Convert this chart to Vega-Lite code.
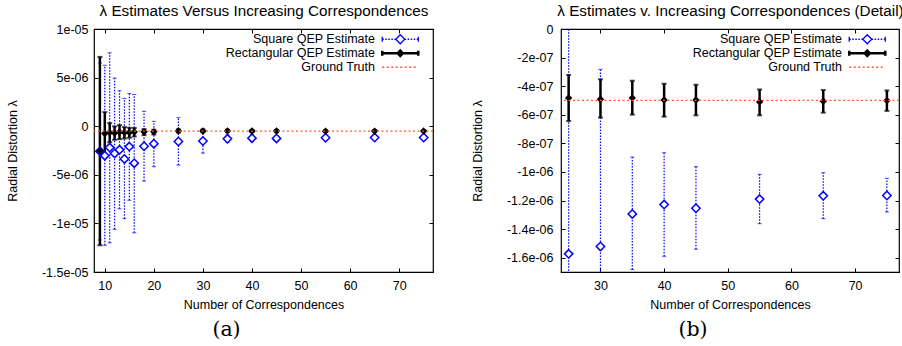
{
  "$schema": "https://vega.github.io/schema/vega-lite/v6.json",
  "padding": {"left": 5, "top": 2, "right": 4, "bottom": 4},
  "spacing": 35,
  "background": "white",
  "config": {
    "font": "Liberation Sans",
    "view": {"stroke": "black", "strokeWidth": 1.2},
    "axis": {
      "grid": false, "domain": false,
      "labelFont": "Liberation Sans", "labelFontSize": 12.5, "labelColor": "black",
      "titleFont": "Liberation Sans", "titleFontSize": 12.5, "titleFontWeight": "normal", "titleColor": "black",
      "tickColor": "black", "tickSize": -4, "tickWidth": 1, "labelOverlap": false, "labelFlush": false
    },
    "legend": {"labelFont": "Liberation Sans", "labelFontSize": 12.5, "labelColor": "black"}
  },
  "resolve": {
    "scale": {"stroke": "independent", "shape": "independent"},
    "legend": {"stroke": "independent", "shape": "independent"}
  },
  "datasets": {
    "est": [
      {"n": 9, "series": "Square QEP Estimate", "y": -2.58e-6, "lo": -1.17e-5, "hi": 6.5e-6},
      {"n": 10, "series": "Square QEP Estimate", "y": -3.03e-6, "lo": -1.225e-5, "hi": 6.27e-6},
      {"n": 11, "series": "Square QEP Estimate", "y": -2.2e-6, "lo": -1.2e-5, "hi": 7.55e-6},
      {"n": 12, "series": "Square QEP Estimate", "y": -2.8e-6, "lo": -1.06e-5, "hi": 4.95e-6},
      {"n": 13, "series": "Square QEP Estimate", "y": -2.43e-6, "lo": -8.49e-6, "hi": 3.64e-6},
      {"n": 14, "series": "Square QEP Estimate", "y": -3.37e-6, "lo": -9.52e-6, "hi": 2.85e-6},
      {"n": 15, "series": "Square QEP Estimate", "y": -2.1e-6, "lo": -7.62e-6, "hi": 3.37e-6},
      {"n": 16, "series": "Square QEP Estimate", "y": -3.8e-6, "lo": -1.097e-5, "hi": 3.26e-6},
      {"n": 18, "series": "Square QEP Estimate", "y": -2.06e-6, "lo": -5.65e-6, "hi": 1.53e-6},
      {"n": 20, "series": "Square QEP Estimate", "y": -1.8e-6, "lo": -4.17e-6, "hi": 5.0e-7},
      {"n": 25, "series": "Square QEP Estimate", "y": -1.573e-6, "lo": -4.0e-6, "hi": 8.8e-7},
      {"n": 30, "series": "Square QEP Estimate", "y": -1.521e-6, "lo": -2.77e-6, "hi": -2.82e-7},
      {"n": 35, "series": "Square QEP Estimate", "y": -1.294e-6, "lo": -1.683e-6, "hi": -8.96e-7},
      {"n": 40, "series": "Square QEP Estimate", "y": -1.228e-6, "lo": -1.59e-6, "hi": -8.66e-7},
      {"n": 45, "series": "Square QEP Estimate", "y": -1.254e-6, "lo": -1.54e-6, "hi": -9.63e-7},
      {"n": 55, "series": "Square QEP Estimate", "y": -1.19e-6, "lo": -1.362e-6, "hi": -1.017e-6},
      {"n": 65, "series": "Square QEP Estimate", "y": -1.167e-6, "lo": -1.327e-6, "hi": -1.005e-6},
      {"n": 75, "series": "Square QEP Estimate", "y": -1.165e-6, "lo": -1.28e-6, "hi": -1.045e-6},
      {"n": 9, "series": "Rectangular QEP Estimate", "y": -2.56e-6, "lo": -1.225e-5, "hi": 7.13e-6},
      {"n": 10, "series": "Rectangular QEP Estimate", "y": -7.5e-7, "lo": -2.92e-6, "hi": 1.45e-6},
      {"n": 11, "series": "Rectangular QEP Estimate", "y": -6.6e-7, "lo": -1.65e-6, "hi": 3.2e-7},
      {"n": 12, "series": "Rectangular QEP Estimate", "y": -7.0e-7, "lo": -1.4e-6, "hi": -2e-8},
      {"n": 13, "series": "Rectangular QEP Estimate", "y": -6.0e-7, "lo": -1.33e-6, "hi": 1.1e-7},
      {"n": 14, "series": "Rectangular QEP Estimate", "y": -6.5e-7, "lo": -1.26e-6, "hi": -9e-8},
      {"n": 15, "series": "Rectangular QEP Estimate", "y": -6.5e-7, "lo": -1.19e-6, "hi": -1.6e-7},
      {"n": 16, "series": "Rectangular QEP Estimate", "y": -6.0e-7, "lo": -1.06e-6, "hi": -1.8e-7},
      {"n": 18, "series": "Rectangular QEP Estimate", "y": -5.8e-7, "lo": -9.2e-7, "hi": -3.0e-7},
      {"n": 20, "series": "Rectangular QEP Estimate", "y": -5.8e-7, "lo": -8.5e-7, "hi": -3.6e-7},
      {"n": 25, "series": "Rectangular QEP Estimate", "y": -4.82e-7, "lo": -6.44e-7, "hi": -3.22e-7},
      {"n": 30, "series": "Rectangular QEP Estimate", "y": -4.91e-7, "lo": -6.2e-7, "hi": -3.52e-7},
      {"n": 35, "series": "Rectangular QEP Estimate", "y": -4.82e-7, "lo": -5.99e-7, "hi": -3.62e-7},
      {"n": 40, "series": "Rectangular QEP Estimate", "y": -4.96e-7, "lo": -6.13e-7, "hi": -3.83e-7},
      {"n": 45, "series": "Rectangular QEP Estimate", "y": -4.96e-7, "lo": -6.04e-7, "hi": -3.9e-7},
      {"n": 55, "series": "Rectangular QEP Estimate", "y": -5.1e-7, "lo": -6.04e-7, "hi": -4.23e-7},
      {"n": 65, "series": "Rectangular QEP Estimate", "y": -5.05e-7, "lo": -5.85e-7, "hi": -4.27e-7},
      {"n": 75, "series": "Rectangular QEP Estimate", "y": -5.0e-7, "lo": -5.73e-7, "hi": -4.3e-7}
    ],
    "truth": [
      {"series": "Ground Truth", "y": -5e-7}
    ]
  },
  "hconcat": [
    {
      "width": 339, "height": 243,
      "title": {"text": "(a)", "orient": "bottom", "anchor": "middle", "frame": "group", "font": "DejaVu Serif", "fontSize": 20.5, "fontWeight": "normal", "color": "black", "dx": -37, "offset": 9},
      "data": {"name": "est"},
      "layer": [
        {
          "transform": [{"filter": "datum.series == 'Square QEP Estimate'"}],
          "mark": {"type": "rule", "color": "#0000ff", "strokeWidth": 1.2, "strokeDash": [1.5, 1.5], "clip": true},
          "encoding": {
            "x": {"field": "n", "type": "quantitative", "scale": {"domain": [7.8, 76.9], "nice": false, "zero": false},
                  "axis": {"orient": "bottom", "values": [10, 20, 30, 40, 50, 60, 70], "title": "Number of Correspondences", "labelPadding": 11, "titlePadding": 7}},
            "y": {"field": "lo", "type": "quantitative", "scale": {"domain": [-1.5e-5, 1e-5], "nice": false, "zero": false},
                  "axis": {"orient": "left", "values": [-1.5e-5, -1e-5, -5e-6, 0, 5e-6, 1e-5], "labelExpr": "['-1.5e-05','-1e-05','-5e-06','0','5e-06','1e-05'][round(datum.value/5e-6)+3]", "title": "Radial Distortion λ", "labelPadding": 10, "titlePadding": 22}},
            "y2": {"field": "hi"}
          }
        },
        {
          "transform": [{"filter": "datum.series == 'Square QEP Estimate'"}],
          "mark": {"type": "tick", "orient": "horizontal", "color": "#0000ff", "size": 4, "thickness": 1, "clip": true},
          "encoding": {
            "x": {"field": "n", "type": "quantitative", "scale": {"domain": [7.8, 76.9], "nice": false, "zero": false}, "axis": null},
            "y": {"field": "lo", "type": "quantitative", "scale": {"domain": [-1.5e-5, 1e-5], "nice": false, "zero": false}, "axis": null}
          }
        },
        {
          "transform": [{"filter": "datum.series == 'Square QEP Estimate'"}],
          "mark": {"type": "tick", "orient": "horizontal", "color": "#0000ff", "size": 4, "thickness": 1, "clip": true},
          "encoding": {
            "x": {"field": "n", "type": "quantitative", "scale": {"domain": [7.8, 76.9], "nice": false, "zero": false}, "axis": null},
            "y": {"field": "hi", "type": "quantitative", "scale": {"domain": [-1.5e-5, 1e-5], "nice": false, "zero": false}, "axis": null}
          }
        },
        {
          "transform": [{"filter": "datum.series == 'Rectangular QEP Estimate'"}],
          "mark": {"type": "rule", "color": "black", "strokeWidth": 2.5, "clip": true},
          "encoding": {
            "x": {"field": "n", "type": "quantitative", "scale": {"domain": [7.8, 76.9], "nice": false, "zero": false}, "axis": null},
            "y": {"field": "lo", "type": "quantitative", "scale": {"domain": [-1.5e-5, 1e-5], "nice": false, "zero": false}, "axis": null},
            "y2": {"field": "hi"}
          }
        },
        {
          "transform": [{"filter": "datum.series == 'Rectangular QEP Estimate'"}],
          "mark": {"type": "tick", "orient": "horizontal", "color": "black", "size": 5, "thickness": 2, "clip": true},
          "encoding": {
            "x": {"field": "n", "type": "quantitative", "scale": {"domain": [7.8, 76.9], "nice": false, "zero": false}, "axis": null},
            "y": {"field": "lo", "type": "quantitative", "scale": {"domain": [-1.5e-5, 1e-5], "nice": false, "zero": false}, "axis": null}
          }
        },
        {
          "transform": [{"filter": "datum.series == 'Rectangular QEP Estimate'"}],
          "mark": {"type": "tick", "orient": "horizontal", "color": "black", "size": 5, "thickness": 2, "clip": true},
          "encoding": {
            "x": {"field": "n", "type": "quantitative", "scale": {"domain": [7.8, 76.9], "nice": false, "zero": false}, "axis": null},
            "y": {"field": "hi", "type": "quantitative", "scale": {"domain": [-1.5e-5, 1e-5], "nice": false, "zero": false}, "axis": null}
          }
        },
        {
          "mark": {"type": "point", "strokeWidth": 1.5, "opacity": 1, "clip": true},
          "encoding": {
            "x": {"field": "n", "type": "quantitative", "scale": {"domain": [7.8, 76.9], "nice": false, "zero": false},
                  "axis": {"orient": "top", "values": [10, 20, 30, 40, 50, 60, 70], "labels": false, "title": "λ Estimates Versus Increasing Correspondences", "titleFontSize": 15.25, "titlePadding": 10}},
            "y": {"field": "y", "type": "quantitative", "scale": {"domain": [-1.5e-5, 1e-5], "nice": false, "zero": false},
                  "axis": {"orient": "right", "values": [-1.5e-5, -1e-5, -5e-6, 0, 5e-6, 1e-5], "labels": false, "title": null}},
            "shape": {"field": "series", "type": "nominal",
                      "scale": {"domain": ["Square QEP Estimate", "Rectangular QEP Estimate"], "range": ["M0,-1L1,0L0,1L-1,0Z", "M0,-1L1,0L0,1L-1,0Z"]},
                      "legend": null},
            "size": {"condition": {"test": "datum.series == 'Rectangular QEP Estimate'", "value": 28}, "value": 70},
            "fill": {"condition": {"test": "datum.series == 'Rectangular QEP Estimate'", "value": "black"}, "value": "white"},
            "stroke": {"condition": {"test": "datum.series == 'Rectangular QEP Estimate'", "value": "black"}, "value": "#0000ff"}
          }
        },
        {
          "data": {"name": "truth"},
          "mark": {"type": "rule", "strokeWidth": 1.2, "strokeDash": [2, 2.5]},
          "encoding": {
            "y": {"field": "y", "type": "quantitative", "scale": {"domain": [-1.5e-5, 1e-5], "nice": false, "zero": false}, "axis": null},
            "stroke": {"field": "series", "type": "nominal",
                       "scale": {"domain": ["Square QEP Estimate", "Rectangular QEP Estimate", "Ground Truth"], "range": ["#0000ff", "black", "#ff5a1f"]},
                       "legend": {"orient": "none", "legendX": 300, "legendY": 4, "title": null, "symbolSize": 90, "labelAlign": "right", "labelOffset": -31.5, "labelLimit": 300, "rowPadding": -2, "padding": 0,
                                  "encode": {"symbols": {"update": {
                                    "shape": {"signal": "datum.value == 'Ground Truth' ? 'M-3.8,0H3.8' : (datum.value == 'Rectangular QEP Estimate' ? 'M-3.8,-0.55V0.55M-3.8,0H3.8M3.8,-0.55V0.55M0,-0.55L0.55,0L0,0.55L-0.55,0Z' : 'M-3.8,-0.55V0.55M3.8,-0.55V0.55M-3.8,0H-3.48M-3.16,0H-2.84M-2.52,0H-2.2M-1.88,0H-1.56M-1.24,0H-0.95M0.95,0H1.24M1.56,0H1.88M2.2,0H2.52M2.84,0H3.16M3.48,0H3.8M0,-0.95L0.95,0L0,0.95L-0.95,0Z')"},
                                    "strokeDash": {"signal": "datum.value == 'Ground Truth' ? [2, 2.5] : []"},
                                    "strokeWidth": {"signal": "datum.value == 'Rectangular QEP Estimate' ? 2.5 : 1.3"},
                                    "fill": {"signal": "datum.value == 'Rectangular QEP Estimate' ? 'black' : (datum.value == 'Ground Truth' ? 'transparent' : 'white')"},
                                    "opacity": {"value": 1}}}}}}
          }
        }
      ]
    },
    {
      "width": 338, "height": 243,
      "title": {"text": "(b)", "orient": "bottom", "anchor": "middle", "frame": "group", "font": "DejaVu Serif", "fontSize": 20.5, "fontWeight": "normal", "color": "black", "dx": -37, "offset": 9},
      "data": {"name": "est"},
      "layer": [
        {
          "transform": [{"filter": "datum.n >= 25 && datum.series == 'Square QEP Estimate'"}],
          "mark": {"type": "rule", "color": "#0000ff", "strokeWidth": 1.2, "strokeDash": [1.5, 1.5], "clip": true},
          "encoding": {
            "x": {"field": "n", "type": "quantitative", "scale": {"domain": [23.8, 76.9], "nice": false, "zero": false},
                  "axis": {"orient": "bottom", "values": [30, 40, 50, 60, 70], "title": "Number of Correspondences", "labelPadding": 11, "titlePadding": 7}},
            "y": {"field": "lo", "type": "quantitative", "scale": {"domain": [-1.7e-6, 0], "nice": false, "zero": false},
                  "axis": {"orient": "left", "values": [-1.6e-6, -1.4e-6, -1.2e-6, -1e-6, -8e-7, -6e-7, -4e-7, -2e-7, 0], "labelExpr": "['0','-2e-07','-4e-07','-6e-07','-8e-07','-1e-06','-1.2e-06','-1.4e-06','-1.6e-06'][round(-datum.value/2e-7)]", "title": "Radial Distortion λ", "labelPadding": 12, "titlePadding": 22}},
            "y2": {"field": "hi"}
          }
        },
        {
          "transform": [{"filter": "datum.n >= 25 && datum.series == 'Square QEP Estimate'"}],
          "mark": {"type": "tick", "orient": "horizontal", "color": "#0000ff", "size": 4, "thickness": 1, "clip": true},
          "encoding": {
            "x": {"field": "n", "type": "quantitative", "scale": {"domain": [23.8, 76.9], "nice": false, "zero": false}, "axis": null},
            "y": {"field": "lo", "type": "quantitative", "scale": {"domain": [-1.7e-6, 0], "nice": false, "zero": false}, "axis": null}
          }
        },
        {
          "transform": [{"filter": "datum.n >= 25 && datum.series == 'Square QEP Estimate'"}],
          "mark": {"type": "tick", "orient": "horizontal", "color": "#0000ff", "size": 4, "thickness": 1, "clip": true},
          "encoding": {
            "x": {"field": "n", "type": "quantitative", "scale": {"domain": [23.8, 76.9], "nice": false, "zero": false}, "axis": null},
            "y": {"field": "hi", "type": "quantitative", "scale": {"domain": [-1.7e-6, 0], "nice": false, "zero": false}, "axis": null}
          }
        },
        {
          "transform": [{"filter": "datum.n >= 25 && datum.series == 'Rectangular QEP Estimate'"}],
          "mark": {"type": "rule", "color": "black", "strokeWidth": 2.5, "clip": true},
          "encoding": {
            "x": {"field": "n", "type": "quantitative", "scale": {"domain": [23.8, 76.9], "nice": false, "zero": false}, "axis": null},
            "y": {"field": "lo", "type": "quantitative", "scale": {"domain": [-1.7e-6, 0], "nice": false, "zero": false}, "axis": null},
            "y2": {"field": "hi"}
          }
        },
        {
          "transform": [{"filter": "datum.n >= 25 && datum.series == 'Rectangular QEP Estimate'"}],
          "mark": {"type": "tick", "orient": "horizontal", "color": "black", "size": 5, "thickness": 2, "clip": true},
          "encoding": {
            "x": {"field": "n", "type": "quantitative", "scale": {"domain": [23.8, 76.9], "nice": false, "zero": false}, "axis": null},
            "y": {"field": "lo", "type": "quantitative", "scale": {"domain": [-1.7e-6, 0], "nice": false, "zero": false}, "axis": null}
          }
        },
        {
          "transform": [{"filter": "datum.n >= 25 && datum.series == 'Rectangular QEP Estimate'"}],
          "mark": {"type": "tick", "orient": "horizontal", "color": "black", "size": 5, "thickness": 2, "clip": true},
          "encoding": {
            "x": {"field": "n", "type": "quantitative", "scale": {"domain": [23.8, 76.9], "nice": false, "zero": false}, "axis": null},
            "y": {"field": "hi", "type": "quantitative", "scale": {"domain": [-1.7e-6, 0], "nice": false, "zero": false}, "axis": null}
          }
        },
        {
          "transform": [{"filter": "datum.n >= 25"}],
          "mark": {"type": "point", "strokeWidth": 1.5, "opacity": 1, "clip": true},
          "encoding": {
            "x": {"field": "n", "type": "quantitative", "scale": {"domain": [23.8, 76.9], "nice": false, "zero": false},
                  "axis": {"orient": "top", "values": [30, 40, 50, 60, 70], "labels": false, "title": "λ Estimates v. Increasing Correspondences (Detail)", "titleFontSize": 15.25, "titlePadding": 10}},
            "y": {"field": "y", "type": "quantitative", "scale": {"domain": [-1.7e-6, 0], "nice": false, "zero": false},
                  "axis": {"orient": "right", "values": [-1.6e-6, -1.4e-6, -1.2e-6, -1e-6, -8e-7, -6e-7, -4e-7, -2e-7, 0], "labels": false, "title": null}},
            "shape": {"field": "series", "type": "nominal",
                      "scale": {"domain": ["Square QEP Estimate", "Rectangular QEP Estimate"], "range": ["M0,-1L1,0L0,1L-1,0Z", "M0,-1L1,0L0,1L-1,0Z"]},
                      "legend": null},
            "size": {"condition": {"test": "datum.series == 'Rectangular QEP Estimate'", "value": 28}, "value": 70},
            "fill": {"condition": {"test": "datum.series == 'Rectangular QEP Estimate'", "value": "black"}, "value": "white"},
            "stroke": {"condition": {"test": "datum.series == 'Rectangular QEP Estimate'", "value": "black"}, "value": "#0000ff"}
          }
        },
        {
          "data": {"name": "truth"},
          "mark": {"type": "rule", "strokeWidth": 1.2, "strokeDash": [2, 2.5]},
          "encoding": {
            "y": {"field": "y", "type": "quantitative", "scale": {"domain": [-1.7e-6, 0], "nice": false, "zero": false}, "axis": null},
            "stroke": {"field": "series", "type": "nominal",
                       "scale": {"domain": ["Square QEP Estimate", "Rectangular QEP Estimate", "Ground Truth"], "range": ["#0000ff", "black", "#ff5a1f"]},
                       "legend": {"orient": "none", "legendX": 300, "legendY": 4, "title": null, "symbolSize": 90, "labelAlign": "right", "labelOffset": -31.5, "labelLimit": 300, "rowPadding": -2, "padding": 0,
                                  "encode": {"symbols": {"update": {
                                    "shape": {"signal": "datum.value == 'Ground Truth' ? 'M-3.8,0H3.8' : (datum.value == 'Rectangular QEP Estimate' ? 'M-3.8,-0.55V0.55M-3.8,0H3.8M3.8,-0.55V0.55M0,-0.55L0.55,0L0,0.55L-0.55,0Z' : 'M-3.8,-0.55V0.55M3.8,-0.55V0.55M-3.8,0H-3.48M-3.16,0H-2.84M-2.52,0H-2.2M-1.88,0H-1.56M-1.24,0H-0.95M0.95,0H1.24M1.56,0H1.88M2.2,0H2.52M2.84,0H3.16M3.48,0H3.8M0,-0.95L0.95,0L0,0.95L-0.95,0Z')"},
                                    "strokeDash": {"signal": "datum.value == 'Ground Truth' ? [2, 2.5] : []"},
                                    "strokeWidth": {"signal": "datum.value == 'Rectangular QEP Estimate' ? 2.5 : 1.3"},
                                    "fill": {"signal": "datum.value == 'Rectangular QEP Estimate' ? 'black' : (datum.value == 'Ground Truth' ? 'transparent' : 'white')"},
                                    "opacity": {"value": 1}}}}}}
          }
        }
      ]
    }
  ]
}
